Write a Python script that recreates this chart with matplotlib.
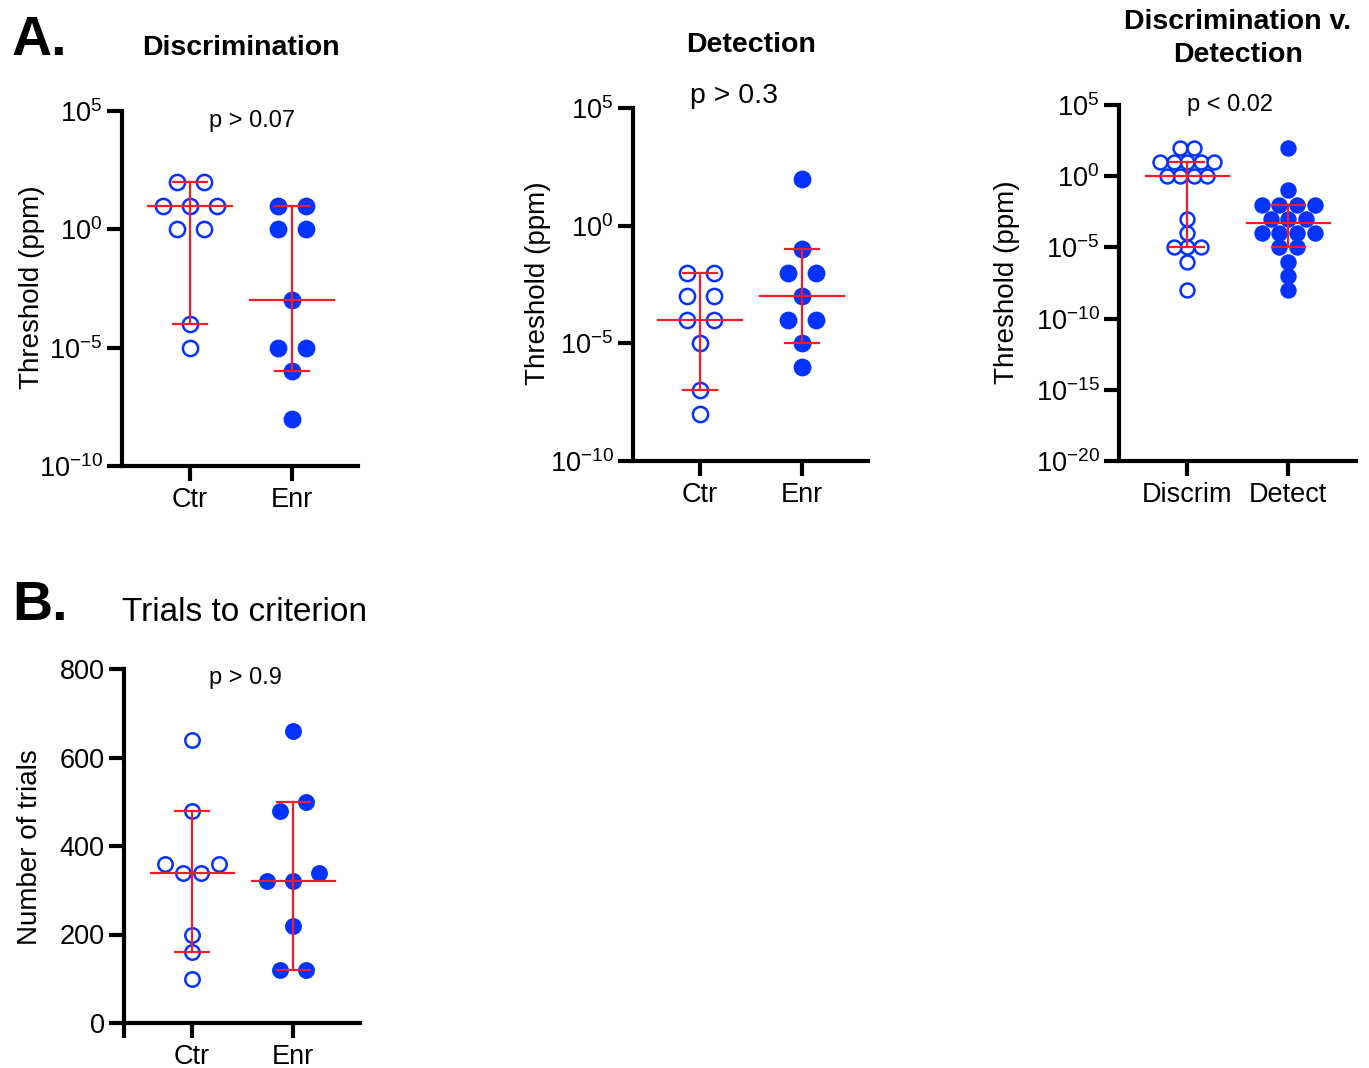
import numpy as np
import matplotlib
matplotlib.use("Agg")
import matplotlib.pyplot as plt
from math import comb

# thresholds (ppm), one value per animal
disc_ctr = [1e2, 1e2, 1e1, 1e1, 1e1, 1e0, 1e0, 1e-4, 1e-5]
disc_enr = [1e1, 1e1, 1e0, 1e0, 1e-3, 1e-5, 1e-5, 1e-6, 1e-8]
det_ctr = [1e-2, 1e-2, 1e-3, 1e-3, 1e-4, 1e-4, 1e-5, 1e-7, 1e-8]
det_enr = [1e2, 1e-1, 1e-2, 1e-2, 1e-3, 1e-4, 1e-4, 1e-5, 1e-6]

# trials to criterion
trials_ctr = [640, 480, 360, 360, 340, 340, 200, 160, 100]
trials_enr = [660, 500, 480, 340, 320, 320, 220, 120, 120]

group_labels = ["Ctr", "Enr"]
compare_labels = ["Discrim", "Detect"]
log_ticks_ab = [1e-10, 1e-5, 1e0, 1e5]
log_ticks_c = [1e-20, 1e-15, 1e-10, 1e-5, 1e0, 1e5]
trial_ticks = [0, 200, 400, 600, 800]

W, H, DPI = 1369, 1068, 100
BLUE = "#0433ff"
RED = "#f21c2a"

plt.rcParams["font.family"] = ["Liberation Sans", "DejaVu Sans"]
plt.rcParams["mathtext.fontset"] = "custom"
plt.rcParams["mathtext.rm"] = "Liberation Sans"


def box(left, top, right, bottom):
    return [left / W, 1 - bottom / H, (right - left) / W, (bottom - top) / H]


def median_ci(vals):
    # median with 95% CI from order statistics
    v = np.sort(np.asarray(vals, float))
    n = len(v)
    j = 0
    while sum(comb(n, i) for i in range(j + 1)) / 2 ** n <= 0.025:
        j += 1
    return np.median(v), v[j - 1], v[n - j]


def swarm_x(ax, x0, vals, spacing, gap=13.5):
    vals = np.asarray(vals, float)
    order = np.argsort(vals, kind="stable")
    ypix = ax.transData.transform(np.column_stack([np.full(len(vals), x0), vals]))[:, 1]
    px_unit = ax.transData.transform([(1, 1)])[0, 0] - ax.transData.transform([(0, 1)])[0, 0]
    xs = np.full(len(vals), float(x0))
    clusters, cur = [], [order[0]]
    for i in order[1:]:
        if ypix[i] - ypix[cur[-1]] < gap:
            cur.append(i)
        else:
            clusters.append(cur)
            cur = [i]
    clusters.append(cur)
    for c in clusters:
        n = len(c)
        offs = (np.arange(n) - (n - 1) / 2) * spacing
        slots = sorted(offs, key=lambda o: (abs(o), o))
        for i, o in zip(c, slots):
            xs[i] = x0 + o / px_unit
    return xs


def style_axes(ax):
    for s in ["top", "right"]:
        ax.spines[s].set_visible(False)
    for s in ["left", "bottom"]:
        ax.spines[s].set_linewidth(3.0)
        ax.spines[s].set_capstyle("projecting")
    ax.tick_params(width=3.0, length=11, labelsize=19.5, pad=3)
    ax.tick_params(axis="x", pad=4)
    ax.minorticks_off()


def log_label(v):
    return r"$\mathregular{10^{%d}}$" % int(round(np.log10(v)))


def draw_panel(ax, groups, labels, spacings, open_size, fill_size):
    ax.set_xticks([0, 1], labels)
    for k, vals in enumerate(groups):
        xs = swarm_x(ax, k, vals, spacings[k])
        if k == 0:
            ax.scatter(xs, vals, s=open_size, facecolors="white", edgecolors=BLUE,
                       linewidths=1.8, zorder=3, clip_on=False)
        else:
            ax.scatter(xs, vals, s=fill_size, color=BLUE, linewidths=0, zorder=3, clip_on=False)
        med, lo, hi = median_ci(vals)
        ax.plot([k, k], [lo, hi], color=RED, lw=1.6, zorder=4)
        ax.plot([k - 0.41, k + 0.41], [med, med], color=RED, lw=1.6, zorder=4)
        for e in (lo, hi):
            ax.plot([k - 0.165, k + 0.165], [e, e], color=RED, lw=1.6, zorder=4)


fig = plt.figure(figsize=(W / DPI, H / DPI), dpi=DPI)

# A: discrimination
ax1 = fig.add_axes(box(122, 111, 358, 466))
ax1.set_yscale("log")
ax1.set_ylim(1e-10, 1e5)
ax1.set_xlim(-0.667, 1.647)
ax1.set_yticks(log_ticks_ab, [log_label(v) for v in log_ticks_ab])
style_axes(ax1)
draw_panel(ax1, [disc_ctr, disc_enr], group_labels, [27, 28], 120, 165)

# A: detection
ax2 = fig.add_axes(box(633, 108, 868, 461))
ax2.set_yscale("log")
ax2.set_ylim(1e-10, 1e5)
ax2.set_xlim(-0.657, 1.647)
ax2.set_yticks(log_ticks_ab, [log_label(v) for v in log_ticks_ab])
style_axes(ax2)
draw_panel(ax2, [det_ctr, det_enr], group_labels, [27, 28], 120, 165)

# A: discrimination v. detection
ax3 = fig.add_axes(box(1119, 105, 1356, 461))
ax3.set_yscale("log")
ax3.set_ylim(1e-20, 1e5)
ax3.set_xlim(-0.673, 1.67)
ax3.set_yticks(log_ticks_c, [log_label(v) for v in log_ticks_c])
style_axes(ax3)
draw_panel(ax3, [disc_ctr + disc_enr, det_ctr + det_enr], compare_labels, [13.5, 17.7], 100, 140)

# B: trials to criterion
ax4 = fig.add_axes(box(124, 669, 360, 1023))
ax4.set_ylim(0, 800)
ax4.set_xlim(-0.673, 1.66)
ax4.set_yticks(trial_ticks)
style_axes(ax4)
draw_panel(ax4, [trials_ctr, trials_enr], group_labels, [18, 26], 108, 148)
ax4.set_xticks([-0.673, 0, 1], ["", "Ctr", "Enr"])


def ftext(x, y, s, **kw):
    fig.text(x / W, 1 - y / H, s, **kw)


ftext(12, 55, "A.", fontsize=40, weight="bold", va="baseline")
ftext(12, 620, "B.", fontsize=40, weight="bold", va="baseline")
ftext(241, 55, "Discrimination", fontsize=20.5, weight="bold", ha="center", va="baseline")
ftext(751, 52, "Detection", fontsize=20.5, weight="bold", ha="center", va="baseline")
ftext(1238, 29, "Discrimination v.", fontsize=20.5, weight="bold", ha="center", va="baseline")
ftext(1238, 62, "Detection", fontsize=20.5, weight="bold", ha="center", va="baseline")
ftext(122, 621, "Trials to criterion", fontsize=24, va="baseline")

ftext(252, 121, "p > 0.07", fontsize=17, ha="center", va="center")
ftext(734, 96, "p > 0.3", fontsize=20.5, ha="center", va="center")
ftext(1230, 105, "p < 0.02", fontsize=17, ha="center", va="center")
ftext(245, 678, "p > 0.9", fontsize=17, ha="center", va="center")

ftext(32, 287, "Threshold (ppm)", fontsize=20, rotation=90, ha="center", va="center")
ftext(538, 283, "Threshold (ppm)", fontsize=20, rotation=90, ha="center", va="center")
ftext(1007, 282, "Threshold (ppm)", fontsize=20, rotation=90, ha="center", va="center")
ftext(30, 847, "Number of trials", fontsize=20, rotation=90, ha="center", va="center")

fig.savefig("out.png", dpi=DPI)
plt.close(fig)
